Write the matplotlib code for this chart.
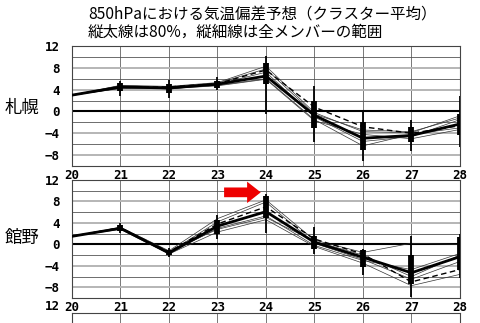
import matplotlib
matplotlib.use('Agg')
import matplotlib.pyplot as plt
from matplotlib.ticker import MultipleLocator

plt.rcParams['font.family'] = ['Noto Sans CJK JP', 'DejaVu Sans']

days = [20, 21, 22, 23, 24, 25, 26, 27, 28]
day_labels = ['20', '21', '22', '23', '24', '25', '26', '27', '28']
y_ticks = [-8, -4, 0, 4, 8, 12]
y_labels = ['−8', '−4', '0', '4', '8', '12']

title1 = '850hPaにおける気温偏差予想（クラスター平均）'
title2 = '縦太線は80%，縦細線は全メンバーの範囲'

# 札幌
sap_mean = [3.0, 4.5, 4.3, 5.0, 6.5, -0.7, -4.9, -4.4, -2.3]
sap_dash = [3.0, 4.4, 4.5, 5.1, 7.6, 0.8, -2.8, -4.0, -2.6]
sap_members = [
    [3.0, 4.8, 4.6, 5.3, 8.3, -0.2, -3.7, -3.9, -0.8],
    [3.0, 4.6, 4.1, 5.0, 7.2, -1.0, -5.5, -4.6, -1.5],
    [3.0, 4.3, 4.4, 4.8, 6.0, -1.5, -6.3, -4.2, -3.0],
    [3.0, 4.2, 4.2, 4.7, 5.9, -1.7, -4.2, -5.0, -3.3],
    [3.0, 4.7, 4.5, 5.2, 7.8, -0.5, -3.4, -3.7, -1.2],
]
sap_all_lo = [2.8, 2.8, 2.5, 4.0, -0.4, -5.6, -9.1, -7.2, -6.5]
sap_all_hi = [3.2, 5.5, 5.8, 6.3, 10.1, 4.6, 0.2, -1.6, 2.8]
sap_80_lo = [2.8, 3.7, 3.4, 4.3, 5.0, -3.1, -7.0, -5.6, -4.4]
sap_80_hi = [3.2, 5.2, 5.0, 5.5, 8.8, 1.9, -2.0, -2.8, -0.5]

# 館野
tat_mean = [1.5, 3.0, -1.6, 3.4, 6.1, 0.4, -2.4, -5.3, -2.3]
tat_dash = [1.5, 3.1, -1.4, 3.8, 7.0, 1.0, -1.8, -7.0, -4.7]
tat_members = [
    [1.5, 3.2, -1.2, 4.8, 8.3, 0.8, -1.5, 0.2, 0.0],
    [1.5, 2.9, -1.8, 2.3, 4.6, -0.4, -3.5, -7.7, -5.6],
    [1.5, 3.1, -1.5, 4.2, 7.9, 0.2, -2.8, -6.5, -3.2],
    [1.5, 2.8, -1.7, 3.0, 5.3, -0.2, -3.0, -4.7, -1.7],
    [1.5, 3.0, -1.3, 2.8, 5.0, 0.6, -2.0, -6.0, -2.0],
]
tat_all_lo = [1.3, 2.2, -2.4, 1.0, 2.2, -1.8, -5.8, -9.8, -6.2]
tat_all_hi = [1.7, 4.0, -0.6, 5.5, 9.4, 3.2, -0.8, 1.6, 1.9]
tat_80_lo = [1.3, 2.5, -2.0, 2.0, 4.9, -0.8, -4.2, -7.4, -4.7]
tat_80_hi = [1.7, 3.7, -1.0, 4.6, 9.0, 1.6, -1.1, -2.0, 1.3]

mono = {'family': 'DejaVu Sans Mono', 'weight': 'bold', 'size': 9}


def frame(ax, yt, yl, xl, yva='center_baseline'):
    ax.set_xlim(20, 28)
    ax.set_ylim(-10, 12)
    ax.set_xticks(days)
    ax.set_xticklabels(xl, fontdict=mono)
    ax.set_yticks(yt)
    ax.set_yticklabels(yl, fontdict=mono, va=yva)
    ax.yaxis.set_minor_locator(MultipleLocator(2))
    ax.tick_params(which='both', length=0, pad=2)
    ax.tick_params(axis='y', pad=9)
    ax.grid(True, which='minor', axis='y', color='#555555', lw=0.6)
    ax.grid(True, which='major', axis='y', color='#b5b5b5', lw=1.4)
    ax.grid(True, which='major', axis='x', color='#777777', lw=0.7)
    ax.set_axisbelow(True)
    for s in ax.spines.values():
        s.set_color('#444444')
        s.set_linewidth(0.8)


def panel(ax, mean, dash, members, all_lo, all_hi, p80_lo, p80_hi):
    frame(ax, y_ticks, y_labels, day_labels)
    ax.axhline(0, color='black', lw=1.5, zorder=2)
    for m in members:
        ax.plot(days, m, color='#333333', lw=0.5, zorder=3)
    ax.plot(days, dash, color='black', lw=1.0, ls=(0, (4, 2.5)), zorder=3)
    ax.vlines(days, all_lo, all_hi, color='black', lw=1.3, zorder=4)
    ax.vlines(days, p80_lo, p80_hi, color='black', lw=4.2, zorder=4)
    ax.plot(days, mean, color='black', lw=2.0, zorder=5)


fig = plt.figure(figsize=(4.8, 3.23), dpi=100)
ax1 = fig.add_axes([0.15, 0.486, 0.808, 0.3715])
ax2 = fig.add_axes([0.15, 0.0774, 0.808, 0.3653])
# next station's panel, only its top edge shows
ax3 = fig.add_axes([0.15, 0.030 - 0.3653, 0.808, 0.3653])

panel(ax1, sap_mean, sap_dash, sap_members, sap_all_lo, sap_all_hi, sap_80_lo, sap_80_hi)
panel(ax2, tat_mean, tat_dash, tat_members, tat_all_lo, tat_all_hi, tat_80_lo, tat_80_hi)
frame(ax3, [12], ['12'], [''] * len(days), yva='bottom')

fig.text(0.183, 0.953, title1, fontsize=11.2, va='center', ha='left')
fig.text(0.183, 0.900, title2, fontsize=11.2, va='center', ha='left')
fig.text(0.01, 0.665, '札幌', fontsize=12.5, va='center', ha='left')
fig.text(0.01, 0.262, '館野', fontsize=12.5, va='center', ha='left')

ax2.annotate('', xy=(23.95, 9.7), xytext=(23.08, 9.7),
             arrowprops=dict(arrowstyle='simple,head_length=0.7,head_width=1.1,tail_width=0.5',
                             color='#ee0000', lw=0, mutation_scale=14),
             zorder=6, annotation_clip=False)

fig.savefig('out.png', dpi=100)
